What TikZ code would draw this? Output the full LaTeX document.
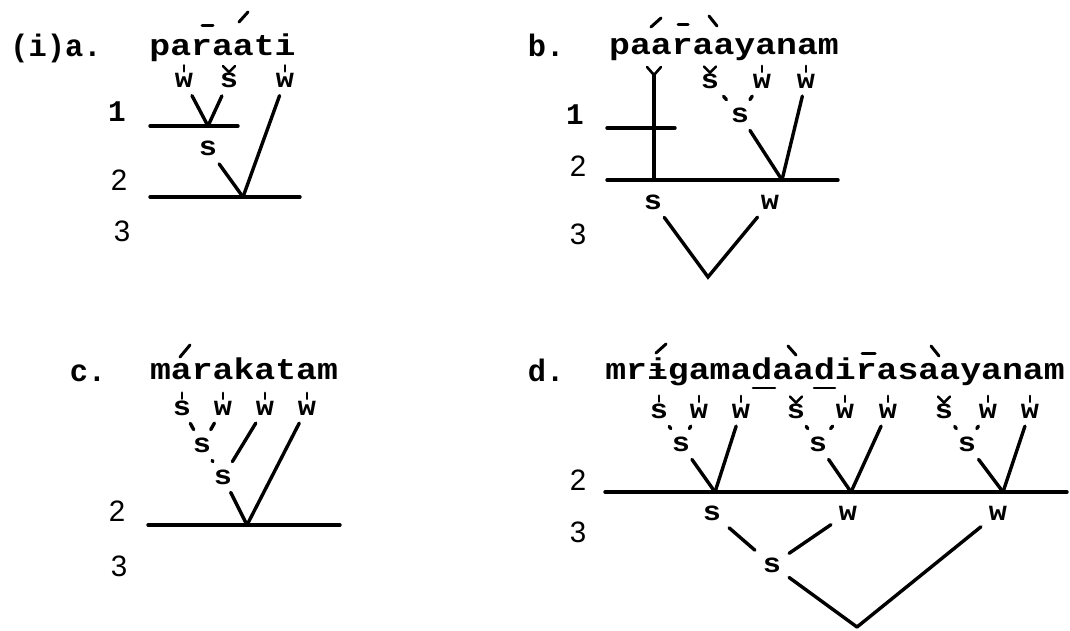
\documentclass[tikz,border=0pt]{standalone}
\usepackage{fontspec}
\newfontfamily\tw[FakeStretch=1.16]{Liberation Mono}
\newfontfamily\twl[FakeStretch=1.12]{Liberation Mono}
\newfontfamily\twt[FakeStretch=0.98]{Liberation Mono}
\newfontfamily\nf{Liberation Sans}
\usetikzlibrary{calc}
\newcommand\vtick[1]{\draw[tk] ($(#1.north)+(0,6)$) -- ++(0,-6);}
\newcommand\vcaron[1]{\draw[tk] ($(#1.north)+(-6,1)$) -- ($(#1.north)+(0,7)$) -- ($(#1.north)+(6,1)$);}
\begin{document}
\begin{tikzpicture}[x=1pt,y=-1pt,
  word/.style={font=\tw\bfseries\fontsize{30}{34}\selectfont, inner sep=0pt, anchor=base},
  ttl/.style={font=\twt\bfseries\fontsize{31}{34}\selectfont, inner sep=0pt, anchor=base},
  lbl/.style={font=\twl\bfseries\fontsize{27}{30}\selectfont, inner sep=8pt, outer sep=0pt},
  num/.style={font=\nf\fontsize{29.5}{32}\selectfont, inner sep=0pt},
  numone/.style={font=\twt\bfseries\fontsize{30}{32}\selectfont, inner sep=0pt},
  ln/.style={line width=3.4pt, line cap=round},
  tie/.style={ln},
  acc/.style={line width=3pt, line cap=round},
  tk/.style={line width=2.6pt, line cap=round, line join=miter},
]
\useasboundingbox[fill=white] (0,0) rectangle (1070,630);

% ---------- panel a ----------
\node[ttl] (ta) at (56,56) {(i)a.};
\node[word] (wa) at (222.5,55) {paraati};
\draw[acc] (202,25) -- (213,25);
\draw[acc] (239,22) -- (248,12);
\node[lbl] (a1) at (184,80.5) {w};
\node[lbl] (a2) at (229,80.5) {s};
\node[lbl] (a3) at (285,80.5) {w};
\vtick{a1}\vcaron{a2}\vtick{a3}
\node[lbl] (a4) at (208,148.5) {s};
\coordinate (aJ1) at (208,126);
\coordinate (aJ2) at (243,197);
\draw[ln] (150,126) -- (238,126);
\draw[ln] (150,197) -- (300,197);
\draw[ln] (a1) -- (aJ1);
\draw[ln] (a2) -- (aJ1);
\draw[ln] (a4) -- (aJ2);
\draw[ln] (a3) -- (aJ2);
\node[numone] (an1) at (117,112) {1};
\node[num] (an2) at (119,180) {2};
\node[num] (an3) at (122,231) {3};

% ---------- panel b ----------
\node[ttl] (tb) at (546,56) {b.};
\node[word] (wb) at (724,54) {paaraayanam};
\draw[acc] (651,27) -- (661,18);
\draw[acc] (678,24) -- (688,24);
\draw[acc] (709,16) -- (717,26);
\coordinate (bY) at (654,75);
\coordinate (bJ1) at (654,180);
\draw[tk] (647,67) -- (bY) -- (661,67);
\draw[ln] (bY) -- (bJ1);
\draw[ln] (607,128) -- (675,128);
\draw[ln] (607,180) -- (838,180);
\node[lbl] (b1) at (710,81) {s};
\node[lbl] (b2) at (762,81) {w};
\node[lbl] (b3) at (806,81) {w};
\vcaron{b1}\vtick{b2}\vtick{b3}
\node[lbl] (b4) at (740,115) {s};
\coordinate (bJ2) at (782,180);
\draw[tie] (b1) -- (b4);
\draw[tie] (b2) -- (b4);
\draw[ln] (b4) -- (bJ2);
\draw[ln] (b3) -- (bJ2);
\node[lbl] (b5) at (653,202) {s};
\node[lbl] (b6) at (770,202) {w};
\coordinate (bV) at (708,277);
\draw[ln] (b5) -- (bV) -- (b6);
\node[numone] (bn1) at (575,115) {1};
\node[num] (bn2) at (578,166) {2};
\node[num] (bn3) at (578,234) {3};

% ---------- panel c ----------
\node[ttl] (tc) at (88,381) {c.};
\node[word] (wc) at (244,379) {marakatam};
\draw[acc] (180,357) -- (190,345);
\node[lbl] (c1) at (182,408) {s};
\node[lbl] (c2) at (223,408) {w};
\node[lbl] (c3) at (265,408) {w};
\node[lbl] (c4) at (307,408) {w};
\vtick{c1}\vtick{c2}\vtick{c3}\vtick{c4}
\node[lbl] (c5) at (202,445) {s};
\node[lbl] (c6) at (223,477) {s};
\coordinate (cJ) at (247,525);
\draw[tie] (c1) -- (c5);
\draw[tie] (c2) -- (c5);
\draw[tie] (c5) -- (c6);
\draw[ln] (c3) -- (c6);
\draw[ln] (c6) -- (cJ);
\draw[ln] (c4) -- (cJ);
\draw[ln] (148,525) -- (340,525);
\node[num] (cn2) at (117,511) {2};
\node[num] (cn3) at (119,566) {3};

% ---------- panel d ----------
\node[ttl] (td) at (546,381) {d.};
\node[word] (wd) at (835,379) {mrigamadaadirasaayanam};
\draw[acc] (656,353) -- (666,344);
\draw[tk] (651,370) -- (664,370);
\draw[acc] (788,346) -- (796,355);
\draw[acc] (862,353) -- (875,353);
\draw[acc] (931,346) -- (939,356);
\draw[tk] (753,388) -- (775,388);
\draw[tk] (814,388) -- (835,388);
\node[lbl] (d1) at (659,411) {s};
\node[lbl] (d2) at (699,411) {w};
\node[lbl] (d3) at (741,411) {w};
\node[lbl] (d4) at (681,444) {s};
\node[lbl] (d5) at (796,411) {s};
\node[lbl] (d6) at (845,411) {w};
\node[lbl] (d7) at (888,411) {w};
\node[lbl] (d8) at (818,444) {s};
\node[lbl] (d9) at (944,411) {s};
\node[lbl] (d10) at (988,411) {w};
\node[lbl] (d11) at (1030,411) {w};
\node[lbl] (d12) at (967,444) {s};
\vtick{d1}\vtick{d2}\vtick{d3}
\vcaron{d5}\vtick{d6}\vtick{d7}
\vcaron{d9}\vtick{d10}\vtick{d11}
\coordinate (dJ1) at (715,492);
\coordinate (dJ2) at (851,492);
\coordinate (dJ3) at (1003,492);
\draw[tie] (d1) -- (d4);
\draw[tie] (d2) -- (d4);
\draw[tie] (d5) -- (d8);
\draw[tie] (d6) -- (d8);
\draw[tie] (d9) -- (d12);
\draw[tie] (d10) -- (d12);
\draw[ln] (d4) -- (dJ1);
\draw[ln] (d3) -- (dJ1);
\draw[ln] (d8) -- (dJ2);
\draw[ln] (d7) -- (dJ2);
\draw[ln] (d12) -- (dJ3);
\draw[ln] (d11) -- (dJ3);
\draw[ln] (605,492) -- (1067,492);
\node[lbl] (d13) at (712,513) {s};
\node[lbl] (d14) at (848,513) {w};
\node[lbl] (d15) at (998,513) {w};
\node[lbl] (d16) at (772,565) {s};
\coordinate (dV) at (857,627);
\draw[ln] (d13) -- (d16);
\draw[ln] (d14) -- (d16);
\draw[ln] (d16) -- (dV);
\draw[ln] (d15) -- (dV);
\node[num] (dn2) at (578,480) {2};
\node[num] (dn3) at (578,532) {3};
\end{tikzpicture}
\end{document}
